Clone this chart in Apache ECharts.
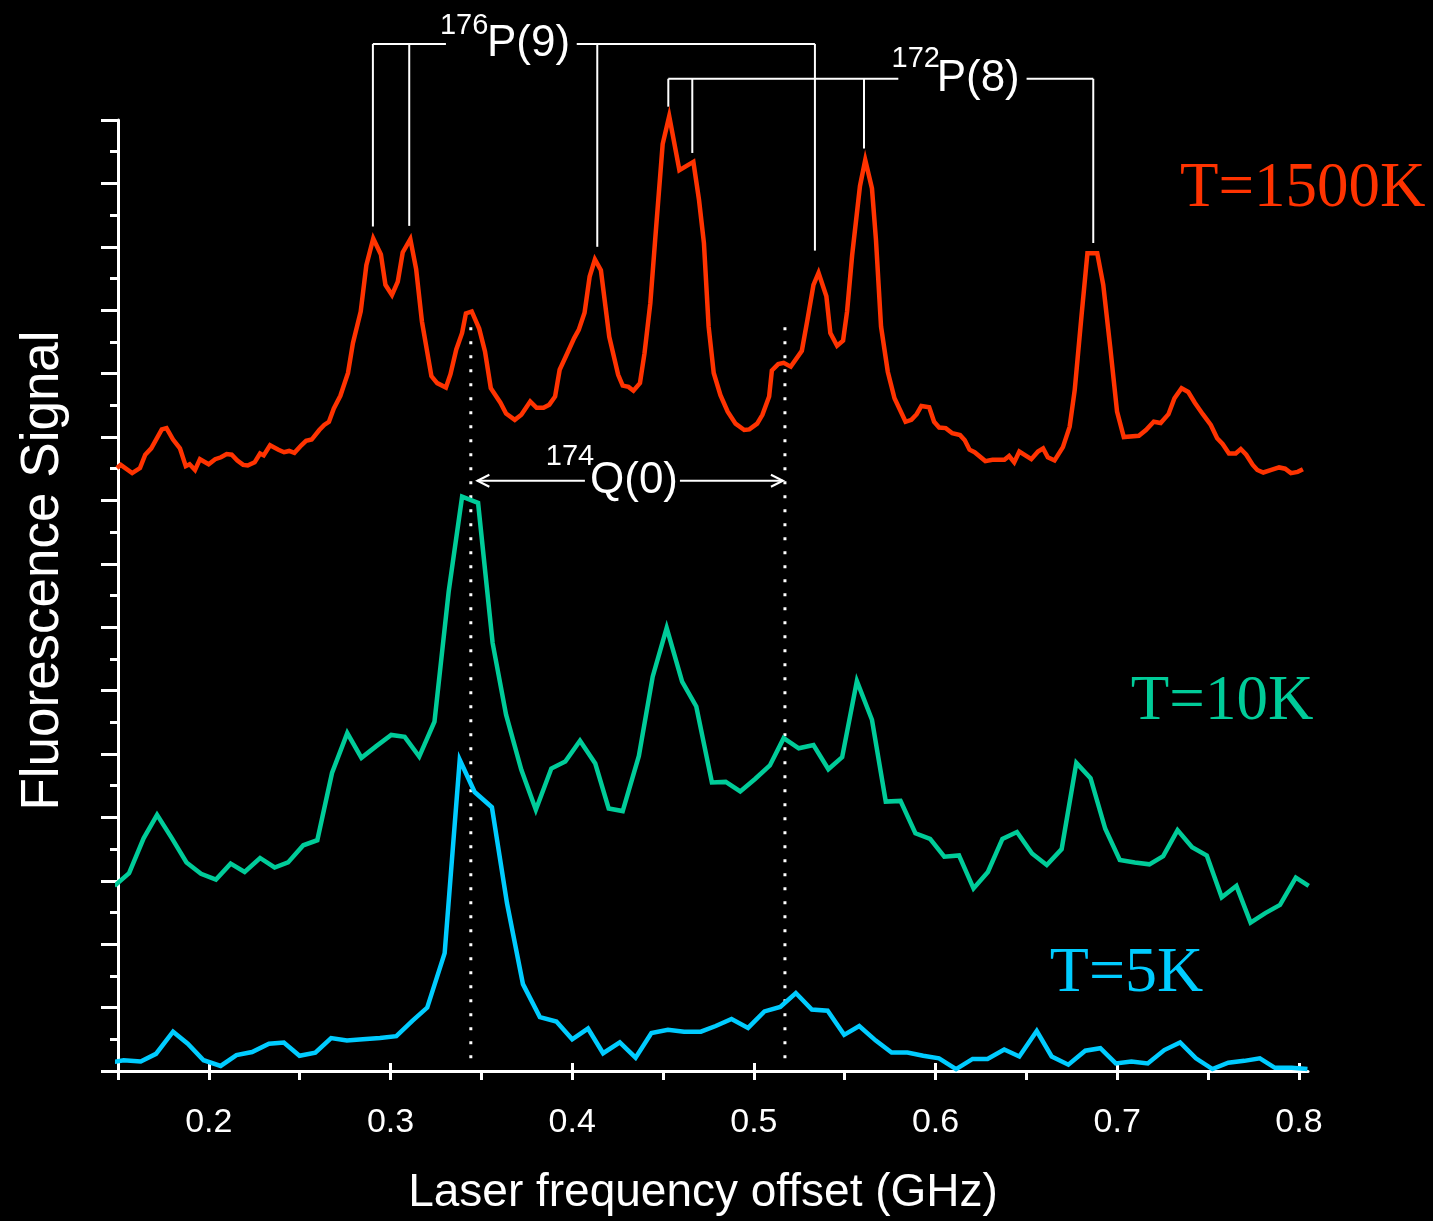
<!DOCTYPE html>
<html>
<head>
<meta charset="utf-8">
<title>Fluorescence spectra</title>
<script src="https://cdn.jsdelivr.net/npm/echarts@6/dist/echarts.min.js"></script>
<style>
  html, body { margin: 0; padding: 0; background: #000; }
  #chart { width: 1433px; height: 1221px; }
</style>
</head>
<body>
<div id="chart"></div>
<script>
// laser frequency offset (GHz), fluorescence signal (arb. units)
const signalT1500K = [
  [0.1494,9.51],[0.1515,9.56],[0.1578,9.43],[0.1621,9.51],[0.1650,9.72],[0.1683,9.82],[0.1741,10.12],[0.1767,10.14],
  [0.1803,9.96],[0.1841,9.82],[0.1873,9.54],[0.1894,9.57],[0.1924,9.48],[0.1951,9.65],[0.1999,9.57],[0.2035,9.65],
  [0.2067,9.68],[0.2098,9.73],[0.2126,9.72],[0.2157,9.63],[0.2189,9.56],[0.2214,9.55],[0.2252,9.60],[0.2282,9.74],
  [0.2302,9.71],[0.2337,9.87],[0.2383,9.80],[0.2414,9.76],[0.2442,9.78],[0.2471,9.75],[0.2509,9.87],[0.2535,9.94],
  [0.2566,9.96],[0.2608,10.11],[0.2635,10.19],[0.2661,10.24],[0.2688,10.45],[0.2724,10.65],[0.2766,11.01],[0.2793,11.48],
  [0.2836,11.98],[0.2867,12.71],[0.2905,13.13],[0.2947,12.88],[0.2972,12.40],[0.3008,12.24],[0.3040,12.45],[0.3067,12.91],
  [0.3109,13.12],[0.3141,12.65],[0.3173,11.82],[0.3225,10.96],[0.3257,10.85],[0.3305,10.78],[0.3330,10.99],[0.3362,11.38],
  [0.3394,11.64],[0.3415,11.95],[0.3447,11.98],[0.3488,11.71],[0.3520,11.35],[0.3552,10.77],[0.3605,10.54],[0.3636,10.37],
  [0.3684,10.27],[0.3720,10.35],[0.3769,10.56],[0.3804,10.46],[0.3842,10.46],[0.3874,10.51],[0.3906,10.64],[0.3931,11.06],
  [0.3973,11.32],[0.4011,11.56],[0.4036,11.69],[0.4068,11.96],[0.4096,12.53],[0.4125,12.80],[0.4158,12.63],[0.4204,11.58],
  [0.4253,10.98],[0.4278,10.81],[0.4310,10.79],[0.4337,10.73],[0.4373,10.85],[0.4398,11.32],[0.4430,12.11],[0.4458,13.16],
  [0.4498,14.62],[0.4534,15.06],[0.4590,14.21],[0.4667,14.34],[0.4698,13.74],[0.4725,13.06],[0.4751,11.74],[0.4779,11.01],
  [0.4816,10.66],[0.4856,10.40],[0.4899,10.21],[0.4947,10.11],[0.4975,10.12],[0.5018,10.21],[0.5047,10.35],[0.5084,10.64],
  [0.5099,11.05],[0.5134,11.15],[0.5164,11.17],[0.5203,11.11],[0.5264,11.36],[0.5295,11.85],[0.5328,12.40],[0.5356,12.59],
  [0.5399,12.22],[0.5421,11.64],[0.5458,11.44],[0.5491,11.52],[0.5513,11.98],[0.5541,12.87],[0.5584,13.96],[0.5613,14.37],
  [0.5650,13.92],[0.5672,13.11],[0.5700,11.74],[0.5737,11.03],[0.5774,10.61],[0.5835,10.24],[0.5867,10.27],[0.5896,10.36],
  [0.5922,10.49],[0.5965,10.47],[0.5992,10.24],[0.6020,10.15],[0.6056,10.14],[0.6092,10.06],[0.6135,10.03],[0.6161,9.95],
  [0.6187,9.80],[0.6215,9.76],[0.6274,9.62],[0.6313,9.64],[0.6379,9.64],[0.6405,9.70],[0.6433,9.60],[0.6461,9.77],
  [0.6527,9.65],[0.6564,9.77],[0.6592,9.82],[0.6618,9.68],[0.6655,9.63],[0.6701,9.84],[0.6738,10.16],[0.6766,10.74],
  [0.6803,11.90],[0.6836,12.90],[0.6890,12.90],[0.6923,12.40],[0.6962,11.40],[0.6999,10.40],[0.7036,10.00],[0.7119,10.02],
  [0.7158,10.11],[0.7201,10.24],[0.7239,10.22],[0.7282,10.36],[0.7315,10.61],[0.7354,10.77],[0.7391,10.71],[0.7427,10.54],
  [0.7471,10.36],[0.7515,10.19],[0.7550,9.98],[0.7580,9.89],[0.7615,9.74],[0.7652,9.74],[0.7680,9.81],[0.7710,9.72],
  [0.7746,9.56],[0.7771,9.48],[0.7804,9.44],[0.7848,9.48],[0.7891,9.52],[0.7924,9.50],[0.7956,9.43],[0.7993,9.45],
  [0.8022,9.49]
]
const signalT10K = [
  [0.1481,2.92],[0.1561,3.12],[0.1641,3.67],[0.1715,4.04],[0.1797,3.67],[0.1877,3.29],[0.1957,3.11],[0.2039,3.02],
  [0.2120,3.27],[0.2197,3.14],[0.2282,3.36],[0.2362,3.21],[0.2436,3.29],[0.2520,3.56],[0.2597,3.64],[0.2678,4.70],
  [0.2762,5.33],[0.2840,4.94],[0.2920,5.12],[0.3004,5.30],[0.3078,5.27],[0.3158,4.96],[0.3242,5.51],[0.3320,7.56],
  [0.3394,9.06],[0.3482,8.96],[0.3562,6.75],[0.3636,5.62],[0.3720,4.75],[0.3800,4.12],[0.3885,4.77],[0.3962,4.88],
  [0.4043,5.21],[0.4127,4.85],[0.4201,4.14],[0.4278,4.10],[0.4367,4.97],[0.4443,6.22],[0.4520,6.99],[0.4605,6.14],
  [0.4683,5.75],[0.4769,4.55],[0.4845,4.56],[0.4925,4.41],[0.5008,4.61],[0.5088,4.82],[0.5164,5.25],[0.5247,5.09],
  [0.5328,5.14],[0.5410,4.76],[0.5486,4.95],[0.5567,6.15],[0.5650,5.54],[0.5726,4.25],[0.5807,4.26],[0.5889,3.75],
  [0.5970,3.66],[0.6048,3.38],[0.6129,3.40],[0.6209,2.88],[0.6288,3.14],[0.6368,3.66],[0.6448,3.77],[0.6531,3.43],
  [0.6612,3.25],[0.6694,3.50],[0.6775,4.86],[0.6853,4.62],[0.6934,3.82],[0.7014,3.33],[0.7097,3.29],[0.7177,3.26],
  [0.7253,3.39],[0.7332,3.80],[0.7412,3.53],[0.7493,3.40],[0.7575,2.74],[0.7656,2.92],[0.7734,2.34],[0.7815,2.49],
  [0.7896,2.62],[0.7983,3.05],[0.8054,2.92]
]
const signalT5K = [
  [0.1449,0.13],[0.1531,0.17],[0.1625,0.15],[0.1709,0.27],[0.1803,0.62],[0.1884,0.43],[0.1971,0.17],[0.2065,0.08],
  [0.2152,0.25],[0.2238,0.30],[0.2331,0.43],[0.2413,0.45],[0.2499,0.24],[0.2586,0.29],[0.2673,0.52],[0.2760,0.48],
  [0.2848,0.50],[0.2942,0.52],[0.3032,0.55],[0.3120,0.79],[0.3202,1.00],[0.3298,1.86],[0.3381,4.91],[0.3463,4.40],
  [0.3558,4.16],[0.3641,2.65],[0.3729,1.37],[0.3822,0.85],[0.3913,0.78],[0.4000,0.50],[0.4087,0.67],[0.4170,0.28],
  [0.4262,0.45],[0.4349,0.21],[0.4436,0.60],[0.4527,0.65],[0.4616,0.62],[0.4708,0.62],[0.4790,0.71],[0.4877,0.82],
  [0.4968,0.68],[0.5058,0.94],[0.5145,1.01],[0.5231,1.23],[0.5319,0.97],[0.5406,0.95],[0.5497,0.57],[0.5580,0.71],
  [0.5671,0.48],[0.5758,0.29],[0.5845,0.29],[0.5932,0.24],[0.6019,0.20],[0.6113,0.03],[0.6204,0.19],[0.6286,0.19],
  [0.6378,0.34],[0.6461,0.23],[0.6557,0.63],[0.6639,0.23],[0.6731,0.10],[0.6824,0.32],[0.6907,0.36],[0.6992,0.12],
  [0.7078,0.15],[0.7168,0.12],[0.7259,0.33],[0.7346,0.45],[0.7433,0.20],[0.7524,0.03],[0.7611,0.13],[0.7699,0.16],
  [0.7785,0.20],[0.7868,0.05],[0.7960,0.05],[0.8047,0.03]
]

const xTickLabels = [0.2, 0.3, 0.4, 0.5, 0.6, 0.7, 0.8]
const xMinorTicks = [0.15, 0.2, 0.25, 0.3, 0.35, 0.4, 0.45, 0.5, 0.55, 0.6, 0.65, 0.7, 0.75, 0.8]

// line positions picked out above the peaks
const p9Peaks = [0.2903, 0.3103, 0.4138, 0.5336]
const p9Ends = [13.32, 13.33, 13.0, 12.94]
const p8Peaks = [0.4529, 0.4661, 0.5606, 0.6868]
const p8Ends = [15.21, 14.48, 14.55, 13.06]
const q0Peaks = [0.3442, 0.5171]

const white = '#ffffff'
const sans = '"Liberation Sans", Arial, sans-serif'
const serif = '"Liberation Serif", "Times New Roman", serif'
const colors = { t1500: '#ff3300', t10: '#00cc99', t5: '#00ccff' }

const chart = echarts.init(document.getElementById('chart'))

const axisStyle = { color: white, width: 3 }

chart.setOption({
  backgroundColor: '#000000',
  animation: false,
  grid: [
    { left: 118, right: 125, top: 120, bottom: 150 },
    { left: 118, right: 125, top: 120, bottom: 150 },
  ],
  xAxis: [
    {
      type: 'value', gridIndex: 0, min: 0.15, max: 0.805, position: 'bottom',
      axisLine: { show: true, onZero: false, lineStyle: axisStyle },
      axisTick: { show: true, customValues: xMinorTicks, length: 9, lineStyle: axisStyle },
      axisLabel: { show: false },
      splitLine: { show: false },
    },
    {
      type: 'value', gridIndex: 1, min: 0.15, max: 0.805, position: 'bottom',
      axisLine: { show: false, onZero: false },
      axisTick: { show: true, customValues: xTickLabels, length: 17, lineStyle: axisStyle },
      axisLabel: {
        show: true, customValues: xTickLabels, margin: 43,
        formatter: (v) => v.toFixed(1), color: white, fontSize: 34, fontFamily: sans,
      },
      splitLine: { show: false },
      name: 'Laser frequency offset (GHz)',
      nameLocation: 'middle',
      nameGap: 107,
      nameTextStyle: { color: white, fontSize: 46, fontFamily: sans, padding: [0, 20, 0, 0] },
    },
  ],
  yAxis: [
    {
      type: 'value', gridIndex: 0, min: 0, max: 15, interval: 1,
      axisLine: { show: true, onZero: false, lineStyle: axisStyle },
      axisTick: { show: true, length: 17, lineStyle: axisStyle },
      minorTick: { show: true, splitNumber: 2, length: 8, lineStyle: axisStyle },
      axisLabel: { show: false },
      splitLine: { show: false },
      minorSplitLine: { show: false },
      name: 'Fluorescence Signal',
      nameLocation: 'middle',
      nameGap: 48,
      nameTextStyle: { color: white, fontSize: 53, fontFamily: sans, padding: [0, 0, 0, 50] },
    },
    { type: 'value', gridIndex: 1, min: 0, max: 15, show: false },
  ],
  series: [
    { name: 'T=1500K', data: signalT1500K, color: colors.t1500 },
    { name: 'T=10K', data: signalT10K, color: colors.t10 },
    { name: 'T=5K', data: signalT5K, color: colors.t5 },
  ].map((s) => ({
    type: 'line',
    name: s.name,
    xAxisIndex: 0,
    yAxisIndex: 0,
    data: s.data,
    showSymbol: false,
    clip: false,
    silent: true,
    lineStyle: { color: s.color, width: 4.5, join: 'miter' },
  })),
})

// annotations: brackets, dotted Q(0) markers and the temperature labels
const toPx = (x, y) => chart.convertToPixel({ gridIndex: 0 }, [x, y])
const seg = (x1, y1, x2, y2, extra) => {
  const a = toPx(x1, y1)
  const b = toPx(x2, y2)
  return {
    type: 'line', silent: true,
    shape: { x1: a[0], y1: a[1], x2: b[0], y2: b[1] },
    style: Object.assign({ stroke: white, lineWidth: 2 }, extra || {}),
  }
}
const text = (x, y, str, size, family, color) => {
  const p = toPx(x, y)
  return {
    type: 'text', silent: true, x: p[0], y: p[1],
    style: { text: str, fontSize: size, fontFamily: family, fill: color, align: 'left', verticalAlign: 'middle' },
  }
}
const arrowHead = (x, y, dir) => {
  const p = toPx(x, y)
  return {
    type: 'polyline', silent: true,
    shape: { points: [[p[0] + dir * 12, p[1] - 6], p, [p[0] + dir * 12, p[1] + 6]] },
    style: { stroke: white, lineWidth: 2, fill: null },
  }
}

const elements = []

// 176P(9)
const p9Y = 16.2
p9Peaks.forEach((x, i) => elements.push(seg(x, p9Y, x, p9Ends[i])))
elements.push(seg(p9Peaks[0], p9Y, 0.3305, p9Y))
elements.push(seg(0.4025, p9Y, p9Peaks[3], p9Y))
elements.push(text(0.3272, 16.48, '176', 29, sans, white))
elements.push(text(0.3531, p9Y, 'P(9)', 44, sans, white))

// 172P(8)
const p8Y = 15.65
p8Peaks.forEach((x, i) => elements.push(seg(x, p8Y, x, p8Ends[i])))
elements.push(seg(p8Peaks[0], p8Y, 0.5795, p8Y))
elements.push(seg(0.6501, p8Y, p8Peaks[3], p8Y))
elements.push(text(0.5758, 15.96, '172', 29, sans, white))
elements.push(text(0.6006, p8Y, 'P(8)', 44, sans, white))

// 174Q(0)
q0Peaks.forEach((x) => elements.push(seg(x, 11.73, x, 0.05, { lineWidth: 3, lineDash: [3, 11] })))
const qY = 9.31
elements.push(seg(0.3478, qY, 0.4070, qY))
elements.push(seg(0.4593, qY, 0.5160, qY))
elements.push(arrowHead(0.3478, qY, 1))
elements.push(arrowHead(0.5160, qY, -1))
elements.push(text(0.3855, 9.68, '174', 29, sans, white))
elements.push(text(0.4098, qY, 'Q(0)', 44, sans, white))

// temperature labels
elements.push(text(0.7345, 13.9, 'T=1500K', 63, serif, colors.t1500))
elements.push(text(0.7075, 5.82, 'T=10K', 63, serif, colors.t10))
elements.push(text(0.6629, 1.53, 'T=5K', 64, serif, colors.t5))

chart.setOption({ graphic: elements })
</script>
</body>
</html>
